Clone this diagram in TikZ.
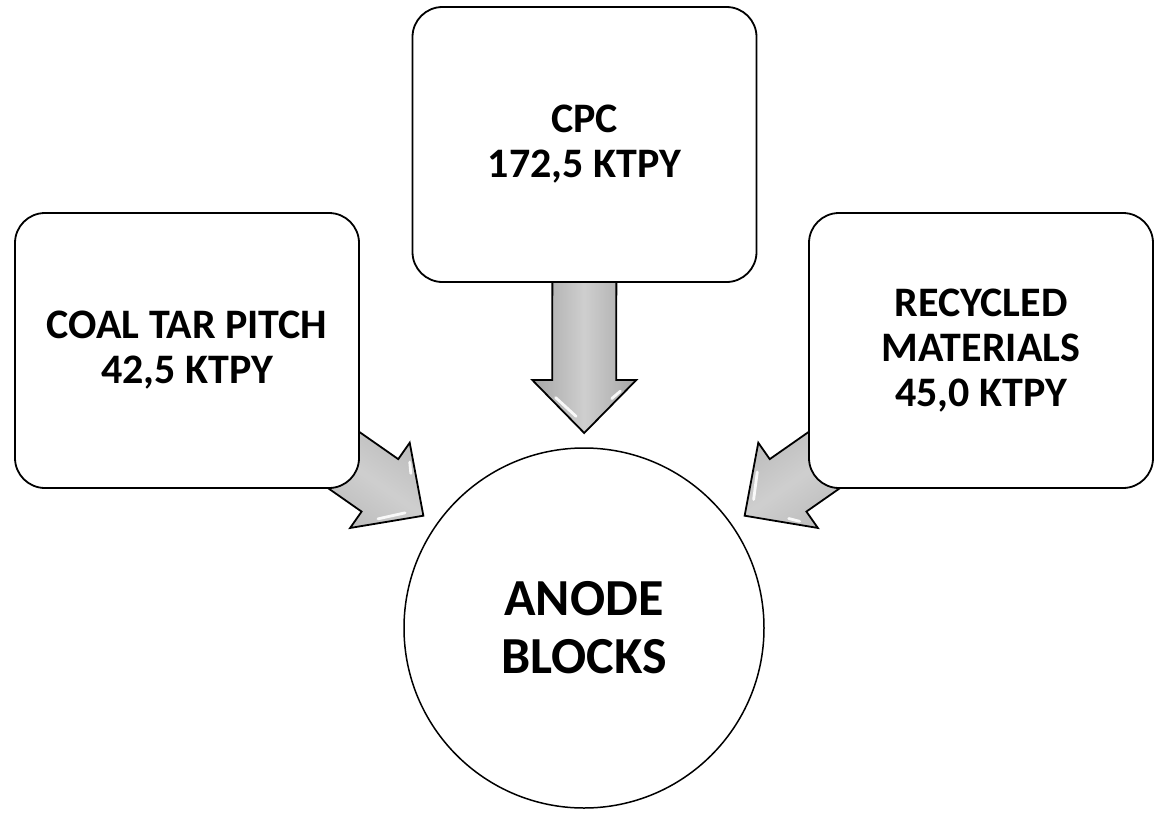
\documentclass[tikz,border=0pt]{standalone}
\usepackage{fontspec}
\setmainfont{Carlito}
\usetikzlibrary{calc}
\pgfdeclarelayer{background}
\pgfsetlayers{background,main}

\tikzset{
  srcbox/.style={draw=black, line width=1.8pt, fill=white, rounded corners=30pt,
    minimum width=344pt, minimum height=275pt, inner sep=0pt, align=center,
    font=\fontsize{42}{45}\selectfont\bfseries},
  sink/.style={circle, draw=black, line width=1.5pt, fill=white,
    minimum size=360pt, inner sep=0pt, align=center,
    font=\fontsize{52}{58}\selectfont\bfseries},
  flowarrow/.style={draw=black, line width=1.8pt, line join=miter,
    left color=gray!70, right color=gray!70, middle color=gray!38},
  gloss/.style={draw=white, line width=2.8pt, line cap=round, opacity=0.9},
}

% Block arrow: #1 name prefix, #2 tail, #3 tip, #4 shading angle
\newcommand\blockarrow[4]{%
  \coordinate (#1-b)  at ($(#3)!53pt!(#2)$);
  \coordinate (#1-wl) at ($(#1-b)!52pt!90:(#3)$);
  \coordinate (#1-wr) at ($(#1-b)!52pt!-90:(#3)$);
  \coordinate (#1-sl) at ($(#1-b)!32pt!90:(#3)$);
  \coordinate (#1-sr) at ($(#1-b)!32pt!-90:(#3)$);
  \coordinate (#1-tl) at ($(#2)!32pt!90:(#3)$);
  \coordinate (#1-tr) at ($(#2)!32pt!-90:(#3)$);
  \path[flowarrow, shading angle=#4]
    (#1-tl) -- (#1-sl) -- (#1-wl) -- (#3) -- (#1-wr) -- (#1-sr) -- (#1-tr) -- cycle;
  % bevel highlights on the head
  \coordinate (#1-ax) at ($(#1-b)!0.45!(#3)$);
  \coordinate (#1-h1) at ($(#1-wr)!0.30!(#3)$);
  \coordinate (#1-h2) at ($(#1-wr)!0.78!(#3)$);
  \coordinate (#1-h3) at ($(#1-wl)!0.16!(#3)$);
  \coordinate (#1-h4) at ($(#1-wl)!0.32!(#3)$);
  \path[gloss] ($(#1-h1)!8pt!(#1-ax)$) -- ($(#1-h2)!6pt!(#1-ax)$);
  \path[gloss] ($(#1-h3)!8pt!(#1-ax)$) -- ($(#1-h4)!8pt!(#1-ax)$);
}

\begin{document}
\begin{tikzpicture}[x=1pt,y=-1pt]
\begin{pgfonlayer}{background}
  \fill[white] (0,0) rectangle (1160,812);
\end{pgfonlayer}
\path[use as bounding box] (0,0) rectangle (1160,812);

% sources and product
\node[srcbox] (ctp) at (187,350.5) {COAL TAR PITCH\\42,5 KTPY};
\node[srcbox] (cpc) at (584.5,144.5) {CPC\\172,5 KTPY};
\node[srcbox] (rec) at (981,350.5) {RECYCLED\\MATERIALS\\45,0 KTPY};
\node[sink] (anode) at (584,628) {ANODE\\BLOCKS};

% flows into the anode blocks, drawn behind the boxes
\begin{pgfonlayer}{background}
  \coordinate (ctp-tip) at ($(anode.center)!196pt!(ctp.center)$);
  \coordinate (cpc-tip) at ($(anode.center)!195pt!(cpc.center)$);
  \coordinate (rec-tip) at ($(anode.center)!196pt!(rec.center)$);
  \blockarrow{a1}{ctp.center}{ctp-tip}{145}
  \blockarrow{a2}{cpc.center}{cpc-tip}{90}
  \blockarrow{a3}{rec.center}{rec-tip}{35}
\end{pgfonlayer}
\end{tikzpicture}
\end{document}
